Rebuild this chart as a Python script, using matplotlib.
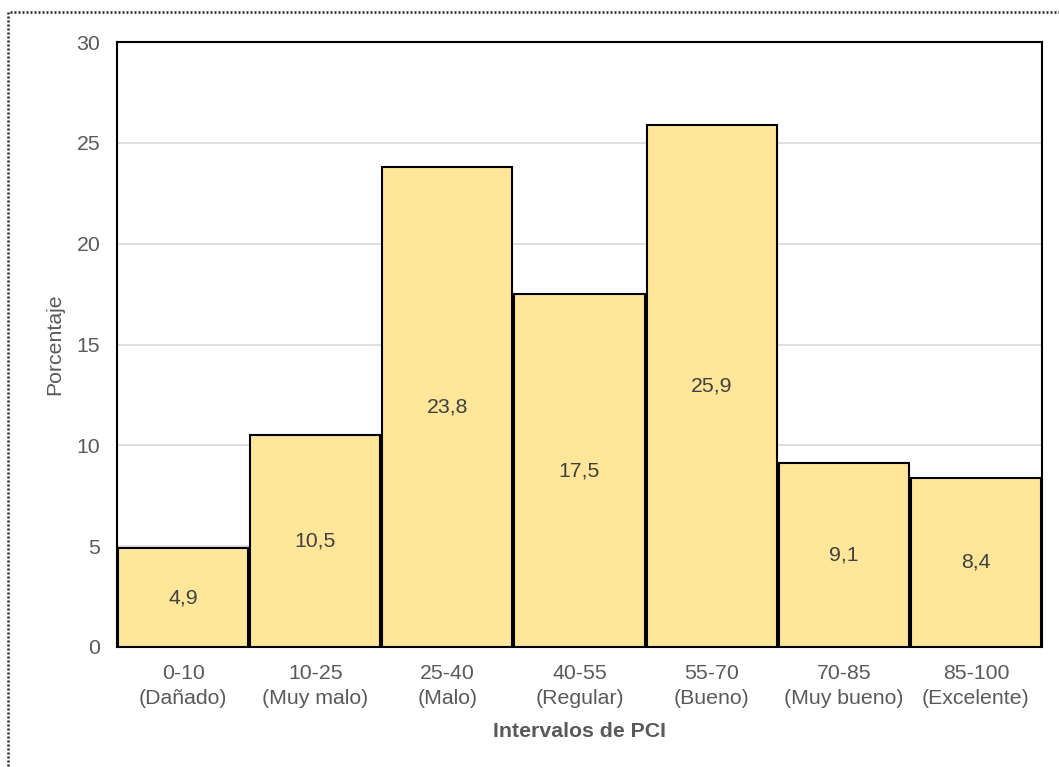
import matplotlib.pyplot as plt
from matplotlib.patches import Rectangle

plt.rcParams['font.family'] = ['Liberation Sans', 'DejaVu Sans']

# PCI intervals and percentage of sections in each
intervalos = ['0-10\n(Dañado)', '10-25\n(Muy malo)', '25-40\n(Malo)', '40-55\n(Regular)',
              '55-70\n(Bueno)', '70-85\n(Muy bueno)', '85-100\n(Excelente)']
porcentaje = [4.9, 10.5, 23.8, 17.5, 25.9, 9.1, 8.4]
etiquetas = ['4,9', '10,5', '23,8', '17,5', '25,9', '9,1', '8,4']

gris = '#595959'
fs = 15.3

fig = plt.figure(figsize=(10.59, 7.67), dpi=100)
ax = fig.add_axes([117 / 1059, 1 - 647 / 767, 925 / 1059, 605 / 767])

# dotted outer frame of the chart
fig.patches.append(Rectangle((8 / 1059, -0.05), 1.1, 1 - 12 / 767 + 0.05,
                             transform=fig.transFigure, fill=False,
                             edgecolor='#222222', linestyle=(0, (0.8, 0.8)), lw=1.8))

x = range(len(porcentaje))
bars = ax.bar(x, porcentaje, width=0.985, color='#FFE699', edgecolor='black', lw=1.5, zorder=3)
for b, txt in zip(bars, etiquetas):
    ax.text(b.get_x() + b.get_width() / 2, b.get_height() / 2, txt,
            ha='center', va='center', fontsize=fs, color='#404040', zorder=4)

ax.set_xlim(-0.5, len(porcentaje) - 0.5)
ax.set_ylim(0, 30)
ax.set_yticks(range(0, 31, 5))
ax.set_xticks(list(x))
ax.set_xticklabels(intervalos, fontsize=fs, color=gris, linespacing=1.45)
ax.tick_params(axis='y', labelsize=fs, labelcolor=gris, length=0, pad=12)
ax.tick_params(axis='x', length=0, pad=12)
ax.grid(axis='y', color='#D9D9D9', lw=1.2, zorder=0)
for s in ax.spines.values():
    s.set_linewidth(1.5)
    s.set_color('black')

ax.set_xlabel('Intervalos de PCI', fontsize=fs, color=gris, fontweight='bold', labelpad=10)
ax.set_ylabel('Porcentaje', fontsize=fs, color=gris, labelpad=9)

fig.savefig('out.png', dpi=100)
